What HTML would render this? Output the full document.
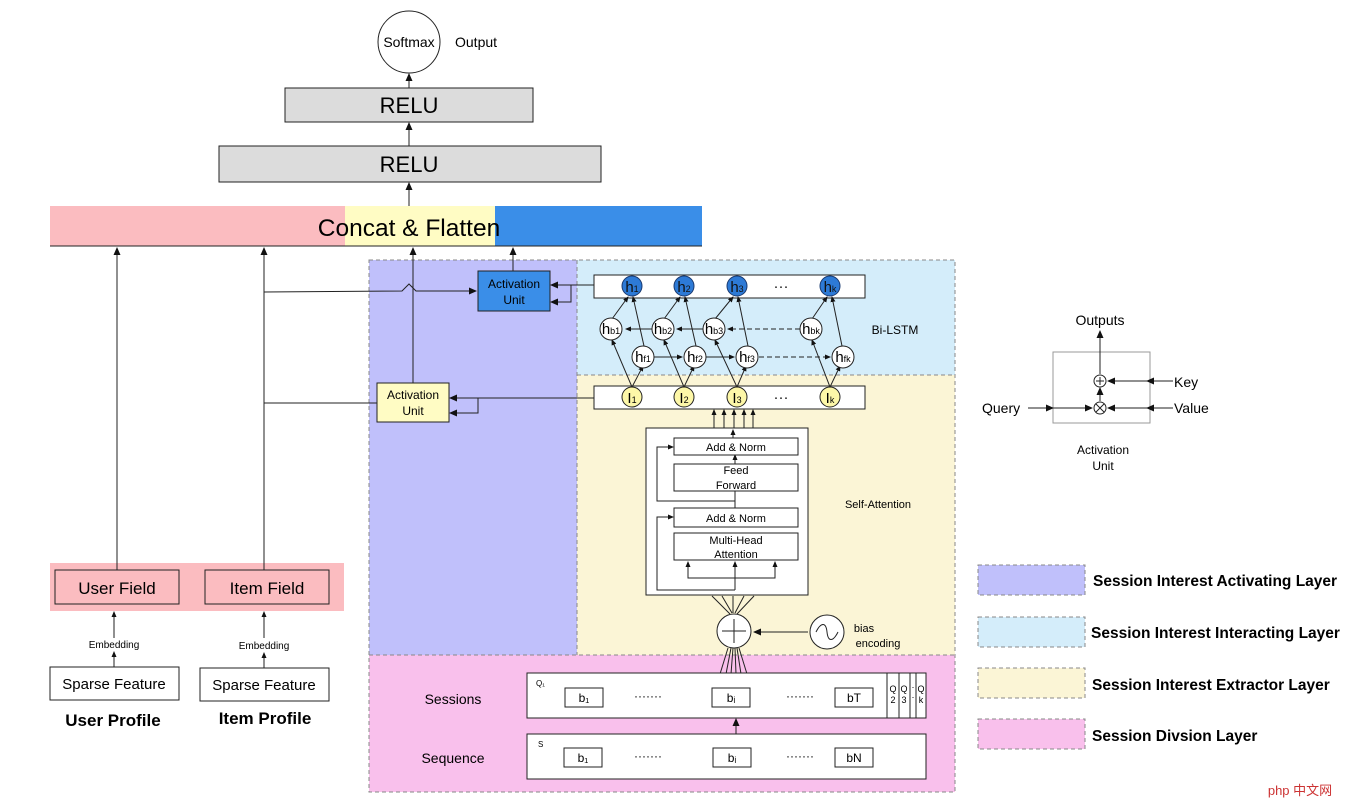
<!DOCTYPE html>
<html><head><meta charset="utf-8"><style>body{margin:0;background:#fff}svg{display:block}text{font-family:"Liberation Sans",Arial,sans-serif}</style></head><body>
<svg width="1352" height="800" viewBox="0 0 1352 800" xmlns="http://www.w3.org/2000/svg">
<defs>
<marker id="a" markerWidth="8" markerHeight="8" refX="7" refY="4" orient="auto" markerUnits="userSpaceOnUse"><path d="M0,0.5 L8,4 L0,7.5 Z" fill="#111"/></marker>
<marker id="s" markerWidth="6" markerHeight="6" refX="5" refY="3" orient="auto" markerUnits="userSpaceOnUse"><path d="M0,0.5 L6,3 L0,5.5 Z" fill="#111"/></marker>
</defs>
<rect x="369" y="260" width="208" height="395" fill="#c0c0fb"/>
<rect x="577" y="260" width="378" height="115" fill="#d4edfa"/>
<rect x="577" y="375" width="378" height="280" fill="#fbf5d6"/>
<rect x="369" y="655" width="586" height="137" fill="#f9c0ec"/>
<g fill="none" stroke="#888" stroke-dasharray="4,3">
<rect x="369" y="260" width="586" height="532"/>
<line x1="577" y1="260" x2="577" y2="655"/><line x1="577" y1="375" x2="955" y2="375"/><line x1="369" y1="655" x2="955" y2="655"/>
</g>
<circle cx="409" cy="42" r="31" fill="#fff" stroke="#222"/>
<text x="409" y="47" font-size="14" text-anchor="middle">Softmax</text>
<text x="455" y="47" font-size="14">Output</text>
<rect x="285" y="88" width="248" height="34" fill="#dcdcdc" stroke="#222"/>
<text x="409" y="113" font-size="22" text-anchor="middle">RELU</text>
<rect x="219" y="146" width="382" height="36" fill="#dcdcdc" stroke="#222"/>
<text x="409" y="172" font-size="22" text-anchor="middle">RELU</text>
<g stroke="#222" fill="none"><line x1="409" y1="88" x2="409" y2="74" marker-end="url(#a)"/><line x1="409" y1="146" x2="409" y2="123" marker-end="url(#a)"/><line x1="409" y1="206" x2="409" y2="183" marker-end="url(#a)"/></g>
<rect x="50" y="206" width="295" height="40" fill="#fbbcc0"/>
<rect x="345" y="206" width="150" height="40" fill="#fffcc4"/>
<rect x="495" y="206" width="207" height="40" fill="#3a8ee8"/>
<line x1="50" y1="246" x2="702" y2="246" stroke="#222"/>
<text x="409" y="236" font-size="24.5" text-anchor="middle">Concat &amp; Flatten</text>
<rect x="50" y="563" width="294" height="48" fill="#fbbcc0"/>
<rect x="55" y="570" width="124" height="34" fill="#fbbcc0" stroke="#222"/>
<text x="117" y="594" font-size="17" text-anchor="middle">User Field</text>
<rect x="205" y="570" width="124" height="34" fill="#fbbcc0" stroke="#222"/>
<text x="267" y="594" font-size="17" text-anchor="middle">Item Field</text>
<text x="114" y="648" font-size="10" text-anchor="middle">Embedding</text>
<text x="264" y="649" font-size="10" text-anchor="middle">Embedding</text>
<rect x="50" y="667" width="129" height="33" fill="#fff" stroke="#222"/>
<text x="114" y="689" font-size="15" text-anchor="middle">Sparse Feature</text>
<rect x="200" y="668" width="129" height="33" fill="#fff" stroke="#222"/>
<text x="264" y="690" font-size="15" text-anchor="middle">Sparse Feature</text>
<text x="113" y="726" font-size="17" font-weight="bold" text-anchor="middle">User Profile</text>
<text x="265" y="724" font-size="17" font-weight="bold" text-anchor="middle">Item Profile</text>
<g stroke="#222" fill="none">
<line x1="114" y1="667" x2="114" y2="652" marker-end="url(#s)"/><line x1="114" y1="638" x2="114" y2="612" marker-end="url(#s)"/>
<line x1="264" y1="668" x2="264" y2="653" marker-end="url(#s)"/><line x1="264" y1="638" x2="264" y2="612" marker-end="url(#s)"/>
<line x1="117" y1="570" x2="117" y2="248" marker-end="url(#a)"/>
<line x1="264" y1="570" x2="264" y2="248" marker-end="url(#a)"/>
<polyline points="264,292 402,291 409,284 416,291 476,291" marker-end="url(#a)"/>
<line x1="264" y1="403" x2="377" y2="403"/>
<line x1="413" y1="383" x2="413" y2="248" marker-end="url(#a)"/>
<line x1="513" y1="271" x2="513" y2="248" marker-end="url(#a)"/>
<line x1="594" y1="285" x2="551" y2="285" marker-end="url(#a)"/>
<polyline points="571,285 571,302 551,302" marker-end="url(#a)"/>
<line x1="594" y1="398" x2="450" y2="398" marker-end="url(#a)"/>
<polyline points="478,398 478,413 450,413" marker-end="url(#a)"/>
</g>
<rect x="478" y="271" width="72" height="40" fill="#3a8ee8" stroke="#222"/>
<text x="514" y="288" font-size="12" text-anchor="middle">Activation</text><text x="514" y="304" font-size="12" text-anchor="middle">Unit</text>
<rect x="377" y="383" width="72" height="39" fill="#fffcc4" stroke="#222"/>
<text x="413" y="399" font-size="12" text-anchor="middle">Activation</text><text x="413" y="415" font-size="12" text-anchor="middle">Unit</text>
<rect x="594" y="275" width="271" height="23" fill="#fff" stroke="#222"/>
<rect x="594" y="386" width="271" height="23" fill="#fff" stroke="#222"/>
<g stroke="#222" fill="none">
<line x1="632" y1="387" x2="612" y2="340" marker-end="url(#s)"/><line x1="632" y1="387" x2="643" y2="366" marker-end="url(#s)"/>
<line x1="684" y1="387" x2="664" y2="340" marker-end="url(#s)"/><line x1="684" y1="387" x2="694" y2="366" marker-end="url(#s)"/>
<line x1="737" y1="387" x2="715" y2="340" marker-end="url(#s)"/><line x1="737" y1="387" x2="746" y2="366" marker-end="url(#s)"/>
<line x1="830" y1="387" x2="812" y2="340" marker-end="url(#s)"/><line x1="830" y1="387" x2="840" y2="366" marker-end="url(#s)"/>
<line x1="612" y1="319" x2="628" y2="297" marker-end="url(#s)"/><line x1="644" y1="346" x2="633" y2="297" marker-end="url(#s)"/>
<line x1="664" y1="319" x2="680" y2="297" marker-end="url(#s)"/><line x1="696" y1="346" x2="685" y2="297" marker-end="url(#s)"/>
<line x1="715" y1="319" x2="733" y2="297" marker-end="url(#s)"/><line x1="748" y1="346" x2="738" y2="297" marker-end="url(#s)"/>
<line x1="812" y1="319" x2="827" y2="297" marker-end="url(#s)"/><line x1="842" y1="346" x2="832" y2="297" marker-end="url(#s)"/>
<line x1="652" y1="329" x2="626" y2="329" marker-end="url(#s)"/>
<line x1="703" y1="329" x2="677" y2="329" marker-end="url(#s)"/>
<line x1="800" y1="329" x2="728" y2="329" stroke-dasharray="5,3" marker-end="url(#s)"/>
<line x1="654" y1="357" x2="682" y2="357" marker-end="url(#s)"/>
<line x1="706" y1="357" x2="734" y2="357" marker-end="url(#s)"/>
<line x1="759" y1="357" x2="830" y2="357" stroke-dasharray="5,3" marker-end="url(#s)"/>
</g>
<g fill="#2d7ad6" stroke="#1a3a70"><circle cx="632" cy="286" r="10"/><circle cx="684" cy="286" r="10"/><circle cx="737" cy="286" r="10"/><circle cx="830" cy="286" r="10"/></g>
<g font-size="15" text-anchor="middle" fill="#111"><text x="632" y="292">h<tspan font-size="9">1</tspan></text><text x="684" y="292">h<tspan font-size="9">2</tspan></text><text x="737" y="292">h<tspan font-size="9">3</tspan></text><text x="830" y="292">h<tspan font-size="9">k</tspan></text><text x="781" y="291">···</text><text x="781" y="402">···</text></g>
<g fill="#fff" stroke="#222"><circle cx="611" cy="329" r="11"/><circle cx="663" cy="329" r="11"/><circle cx="714" cy="329" r="11"/><circle cx="811" cy="329" r="11"/>
<circle cx="643" cy="357" r="11"/><circle cx="695" cy="357" r="11"/><circle cx="747" cy="357" r="11"/><circle cx="843" cy="357" r="11"/></g>
<g font-size="15" text-anchor="middle"><text x="611" y="334">h<tspan font-size="9">b1</tspan></text><text x="663" y="334">h<tspan font-size="9">b2</tspan></text><text x="714" y="334">h<tspan font-size="9">b3</tspan></text><text x="811" y="334">h<tspan font-size="9">bk</tspan></text>
<text x="643" y="362">h<tspan font-size="9">f1</tspan></text><text x="695" y="362">h<tspan font-size="9">f2</tspan></text><text x="747" y="362">h<tspan font-size="9">f3</tspan></text><text x="843" y="362">h<tspan font-size="9">fk</tspan></text></g>
<g fill="#fdf7a8" stroke="#222"><circle cx="632" cy="397" r="10"/><circle cx="684" cy="397" r="10"/><circle cx="737" cy="397" r="10"/><circle cx="830" cy="397" r="10"/></g>
<g font-size="15" text-anchor="middle"><text x="632" y="403">I<tspan font-size="9">1</tspan></text><text x="684" y="403">I<tspan font-size="9">2</tspan></text><text x="737" y="403">I<tspan font-size="9">3</tspan></text><text x="830" y="403">I<tspan font-size="9">k</tspan></text></g>
<text x="895" y="334" font-size="12" text-anchor="middle">Bi-LSTM</text>
<rect x="646" y="428" width="162" height="167" fill="#fff" stroke="#222"/>
<g stroke="#222" fill="none">
<line x1="714" y1="428" x2="714" y2="410" marker-end="url(#s)"/><line x1="724" y1="428" x2="724" y2="410" marker-end="url(#s)"/><line x1="734" y1="428" x2="734" y2="410" marker-end="url(#s)"/><line x1="744" y1="428" x2="744" y2="410" marker-end="url(#s)"/><line x1="753" y1="428" x2="753" y2="410" marker-end="url(#s)"/>
<line x1="733" y1="438" x2="733" y2="430" marker-end="url(#s)"/>
<line x1="735" y1="508" x2="735" y2="455" marker-end="url(#s)"/>
<polyline points="735,501 657,501 657,447 673,447" marker-end="url(#s)"/>
<polyline points="735,590 657,590 657,517 673,517" marker-end="url(#s)"/>
<line x1="735" y1="590" x2="735" y2="562" marker-end="url(#s)"/>
<polyline points="735,578 688,578 688,562" marker-end="url(#s)"/>
<polyline points="735,578 775,578 775,562" marker-end="url(#s)"/>
</g>
<rect x="674" y="438" width="124" height="17" fill="#fff" stroke="#222"/><text x="736" y="451" font-size="11" text-anchor="middle">Add &amp; Norm</text>
<rect x="674" y="464" width="124" height="27" fill="#fff" stroke="#222"/><text x="736" y="474" font-size="11" text-anchor="middle">Feed</text><text x="736" y="489" font-size="11" text-anchor="middle">Forward</text>
<rect x="674" y="508" width="124" height="19" fill="#fff" stroke="#222"/><text x="736" y="522" font-size="11" text-anchor="middle">Add &amp; Norm</text>
<rect x="674" y="533" width="124" height="27" fill="#fff" stroke="#222"/><text x="736" y="544" font-size="11" text-anchor="middle">Multi-Head</text><text x="736" y="558" font-size="11" text-anchor="middle">Attention</text>
<text x="878" y="508" font-size="11" text-anchor="middle">Self-Attention</text>
<g stroke="#222" fill="none">
<line x1="730" y1="614" x2="712" y2="596"/><line x1="732" y1="613" x2="722" y2="596"/><line x1="733" y1="613" x2="733" y2="596"/><line x1="735" y1="613" x2="744" y2="596"/><line x1="737" y1="614" x2="754" y2="596"/>
<line x1="808" y1="632" x2="754" y2="632" marker-end="url(#a)"/>
<line x1="720" y1="674" x2="728" y2="648"/><line x1="726" y1="674" x2="731" y2="648"/><line x1="731" y1="674" x2="733" y2="648"/><line x1="736" y1="674" x2="735" y2="648"/><line x1="741" y1="674" x2="737" y2="648"/><line x1="747" y1="674" x2="739" y2="648"/>
</g>
<circle cx="734" cy="631" r="17" fill="#fff" stroke="#222"/>
<path d="M722,631 H746 M734,619 V643" stroke="#222" fill="none"/>
<circle cx="827" cy="632" r="17" fill="#fff" stroke="#222"/>
<path d="M816,632 C821,622 826,622 827,632 C828,642 833,642 838,632" stroke="#222" fill="none"/>
<text x="864" y="632" font-size="11" text-anchor="middle">bias</text><text x="878" y="647" font-size="11" text-anchor="middle">encoding</text>
<rect x="527" y="673" width="360" height="45" fill="#fff" stroke="#222"/>
<rect x="887" y="673" width="39" height="45" fill="#fff" stroke="#222"/>
<g stroke="#222"><line x1="899" y1="673" x2="899" y2="718"/><line x1="910" y1="673" x2="910" y2="718"/><line x1="916" y1="673" x2="916" y2="718"/></g>
<g font-size="9" text-anchor="middle"><text x="893" y="692">Q</text><text x="893" y="703">2</text><text x="904" y="692">Q</text><text x="904" y="703">3</text><text x="913" y="690">·</text><text x="913" y="700">·</text><text x="921" y="692">Q</text><text x="921" y="703">k</text></g>
<text x="536" y="686" font-size="8">Q₁</text>
<rect x="565" y="688" width="38" height="19" fill="#fff" stroke="#222"/><text x="584" y="702" font-size="12" text-anchor="middle">b₁</text>
<rect x="712" y="688" width="38" height="19" fill="#fff" stroke="#222"/><text x="731" y="702" font-size="12" text-anchor="middle">bᵢ</text>
<rect x="835" y="688" width="38" height="19" fill="#fff" stroke="#222"/><text x="854" y="702" font-size="12" text-anchor="middle">bT</text>
<text x="648" y="700" font-size="12" text-anchor="middle">·······</text><text x="800" y="700" font-size="12" text-anchor="middle">·······</text>
<line x1="736" y1="734" x2="736" y2="719" stroke="#222" marker-end="url(#a)"/>
<rect x="527" y="734" width="399" height="45" fill="#fff" stroke="#222"/>
<text x="538" y="747" font-size="8">S</text>
<rect x="564" y="748" width="38" height="19" fill="#fff" stroke="#222"/><text x="583" y="762" font-size="12" text-anchor="middle">b₁</text>
<rect x="713" y="748" width="38" height="19" fill="#fff" stroke="#222"/><text x="732" y="762" font-size="12" text-anchor="middle">bᵢ</text>
<rect x="835" y="748" width="38" height="19" fill="#fff" stroke="#222"/><text x="854" y="762" font-size="12" text-anchor="middle">bN</text>
<text x="648" y="760" font-size="12" text-anchor="middle">·······</text><text x="800" y="760" font-size="12" text-anchor="middle">·······</text>
<text x="453" y="704" font-size="14" text-anchor="middle">Sessions</text>
<text x="453" y="763" font-size="14" text-anchor="middle">Sequence</text>
<rect x="1053" y="352" width="97" height="71" fill="#fff" stroke="#999"/>
<text x="1100" y="325" font-size="14" text-anchor="middle">Outputs</text>
<g stroke="#222" fill="none">
<line x1="1100" y1="374" x2="1100" y2="331" marker-end="url(#a)"/>
<line x1="1100" y1="401" x2="1100" y2="388" marker-end="url(#a)"/>
<line x1="1147" y1="381" x2="1108" y2="381" marker-end="url(#a)"/><line x1="1173" y1="381" x2="1147" y2="381" marker-end="url(#a)"/>
<line x1="1147" y1="408" x2="1108" y2="408" marker-end="url(#a)"/><line x1="1173" y1="408" x2="1147" y2="408" marker-end="url(#a)"/>
<line x1="1028" y1="408" x2="1053" y2="408" marker-end="url(#a)"/><line x1="1053" y1="408" x2="1092" y2="408" marker-end="url(#a)"/>
</g>
<circle cx="1100" cy="381" r="6" fill="#fff" stroke="#222"/><path d="M1096,381H1104M1100,377V385" stroke="#222"/>
<circle cx="1100" cy="408" r="6" fill="#fff" stroke="#222"/><path d="M1096,404L1104,412M1104,404L1096,412" stroke="#222"/>
<text x="1174" y="387" font-size="14">Key</text><text x="1174" y="413" font-size="14">Value</text><text x="982" y="413" font-size="14">Query</text>
<text x="1103" y="454" font-size="12" text-anchor="middle">Activation</text><text x="1103" y="470" font-size="12" text-anchor="middle">Unit</text>
<g stroke="#888" stroke-dasharray="4,3">
<rect x="978" y="565" width="107" height="30" fill="#c0c0fb"/>
<rect x="978" y="617" width="107" height="30" fill="#d4edfa"/>
<rect x="978" y="668" width="107" height="30" fill="#fbf5d6"/>
<rect x="978" y="719" width="107" height="30" fill="#f9c0ec"/>
</g>
<g font-size="15.5" font-weight="bold"><text x="1093" y="586">Session Interest Activating Layer</text><text x="1091" y="638">Session Interest Interacting Layer</text><text x="1092" y="690">Session Interest Extractor Layer</text><text x="1092" y="741">Session Divsion Layer</text></g>
<text x="1300" y="795" font-size="13" fill="#c33" text-anchor="middle">php 中文网</text>
</svg>
</body></html>
